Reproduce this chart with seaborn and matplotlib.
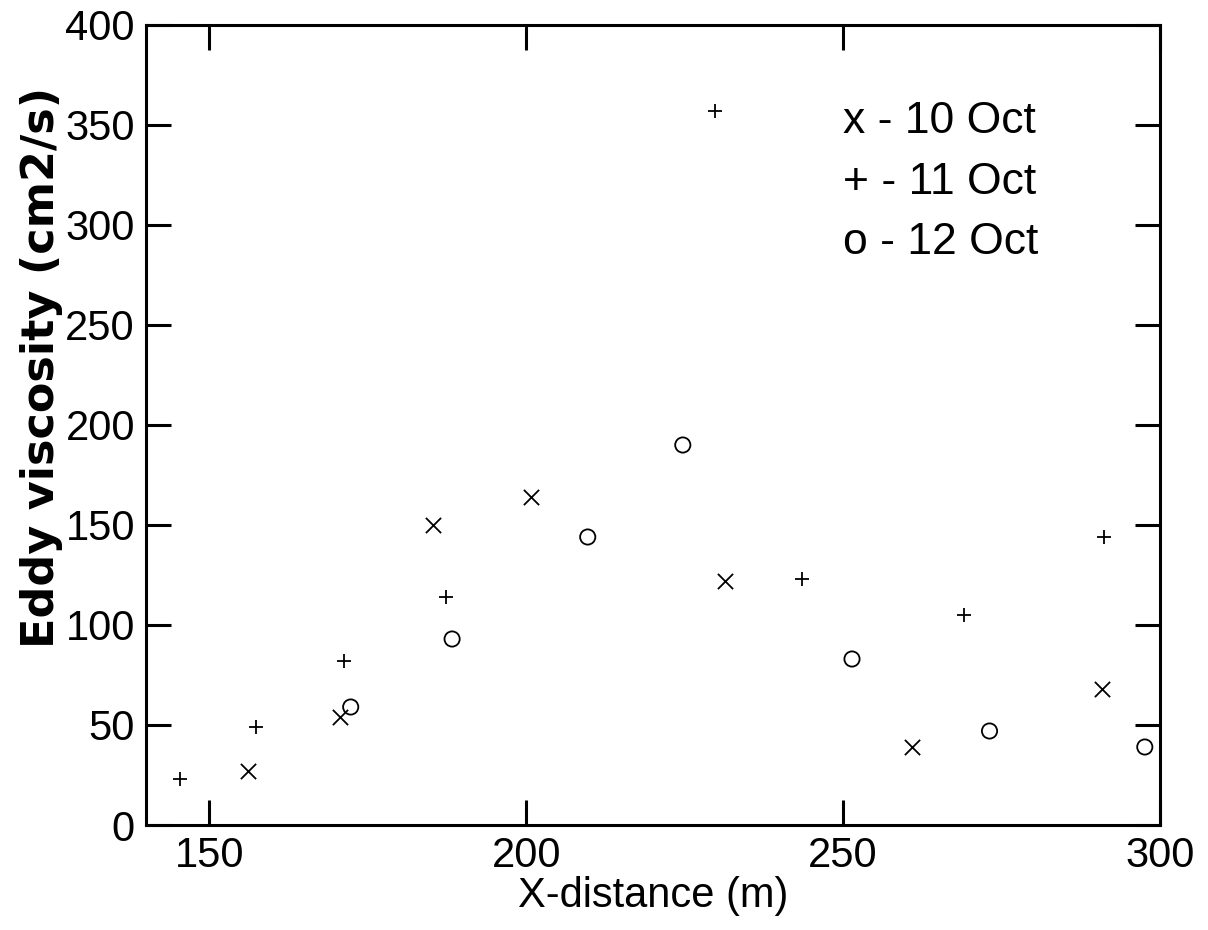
import matplotlib
matplotlib.use("Agg")
import matplotlib.pyplot as plt
import seaborn as sns
import pandas as pd

# ---- data ----
oct10_x = [156.1, 170.6, 185.3, 200.8, 231.4, 260.9, 290.8]
oct10_y = [27, 54, 150, 164, 122, 39, 68]

oct11_x = [145.3, 157.3, 171.3, 187.4, 229.8, 243.5, 269.1, 291.1]
oct11_y = [23, 49, 82, 114, 357, 123, 105, 144]

oct12_x = [172.3, 188.3, 209.7, 224.7, 251.4, 273.1, 297.6]
oct12_y = [59, 93, 144, 190, 83, 47, 39]

legend_lines = ["x - 10 Oct", "+ - 11 Oct", "o - 12 Oct"]
x_ticks = [150, 200, 250, 300]
y_ticks = [0, 50, 100, 150, 200, 250, 300, 350, 400]

sns.set_theme(style="ticks")
plt.rcParams["font.family"] = ["Liberation Sans", "DejaVu Sans"]
plt.rcParams["text.color"] = "black"
plt.rcParams["axes.labelcolor"] = "black"

fig = plt.figure(figsize=(12.08, 9.30), dpi=100)
ax = fig.add_axes([146 / 1208, 1 - 825 / 930, (1160 - 146) / 1208, (825 - 25) / 930])

d10 = pd.DataFrame({"x": oct10_x, "y": oct10_y})
d11 = pd.DataFrame({"x": oct11_x, "y": oct11_y})
d12 = pd.DataFrame({"x": oct12_x, "y": oct12_y})

sns.scatterplot(data=d10, x="x", y="y", marker="x", s=120, color="black",
                linewidth=1.3, ax=ax, legend=False)
sns.scatterplot(data=d11, x="x", y="y", marker="+", s=100, color="black",
                linewidth=1.3, ax=ax, legend=False)
sns.scatterplot(data=d12, x="x", y="y", marker="o", s=120, facecolor="none",
                edgecolor="black", linewidth=1.3, ax=ax, legend=False)

ax.set_xlim(140, 300)
ax.set_ylim(0, 400)
ax.set_xticks(x_ticks)
ax.set_yticks(y_ticks)
ax.tick_params(direction="in", length=18, width=2.2, top=True, right=True,
               labelsize=30, colors="black", pad=8)
for side in ["left", "right", "top", "bottom"]:
    ax.spines[side].set_visible(True)
    ax.spines[side].set_linewidth(2.2)
    ax.spines[side].set_color("black")

ax.set_xlabel("X-distance (m)", fontsize=30, labelpad=0, color="black")
ax.set_ylabel("Eddy viscosity (cm2/s)", fontsize=32, fontweight="bold",
              color="black", family=["DejaVu Sans"])
ax.yaxis.set_label_coords(-0.082, 0.5725)

ys = [0.879, 0.8025, 0.7275]
for txt, yy in zip(legend_lines, ys):
    ax.text(0.687, yy, txt, transform=ax.transAxes, fontsize=32,
            va="center", ha="left", color="black")

fig.savefig("out.png", dpi=100)
